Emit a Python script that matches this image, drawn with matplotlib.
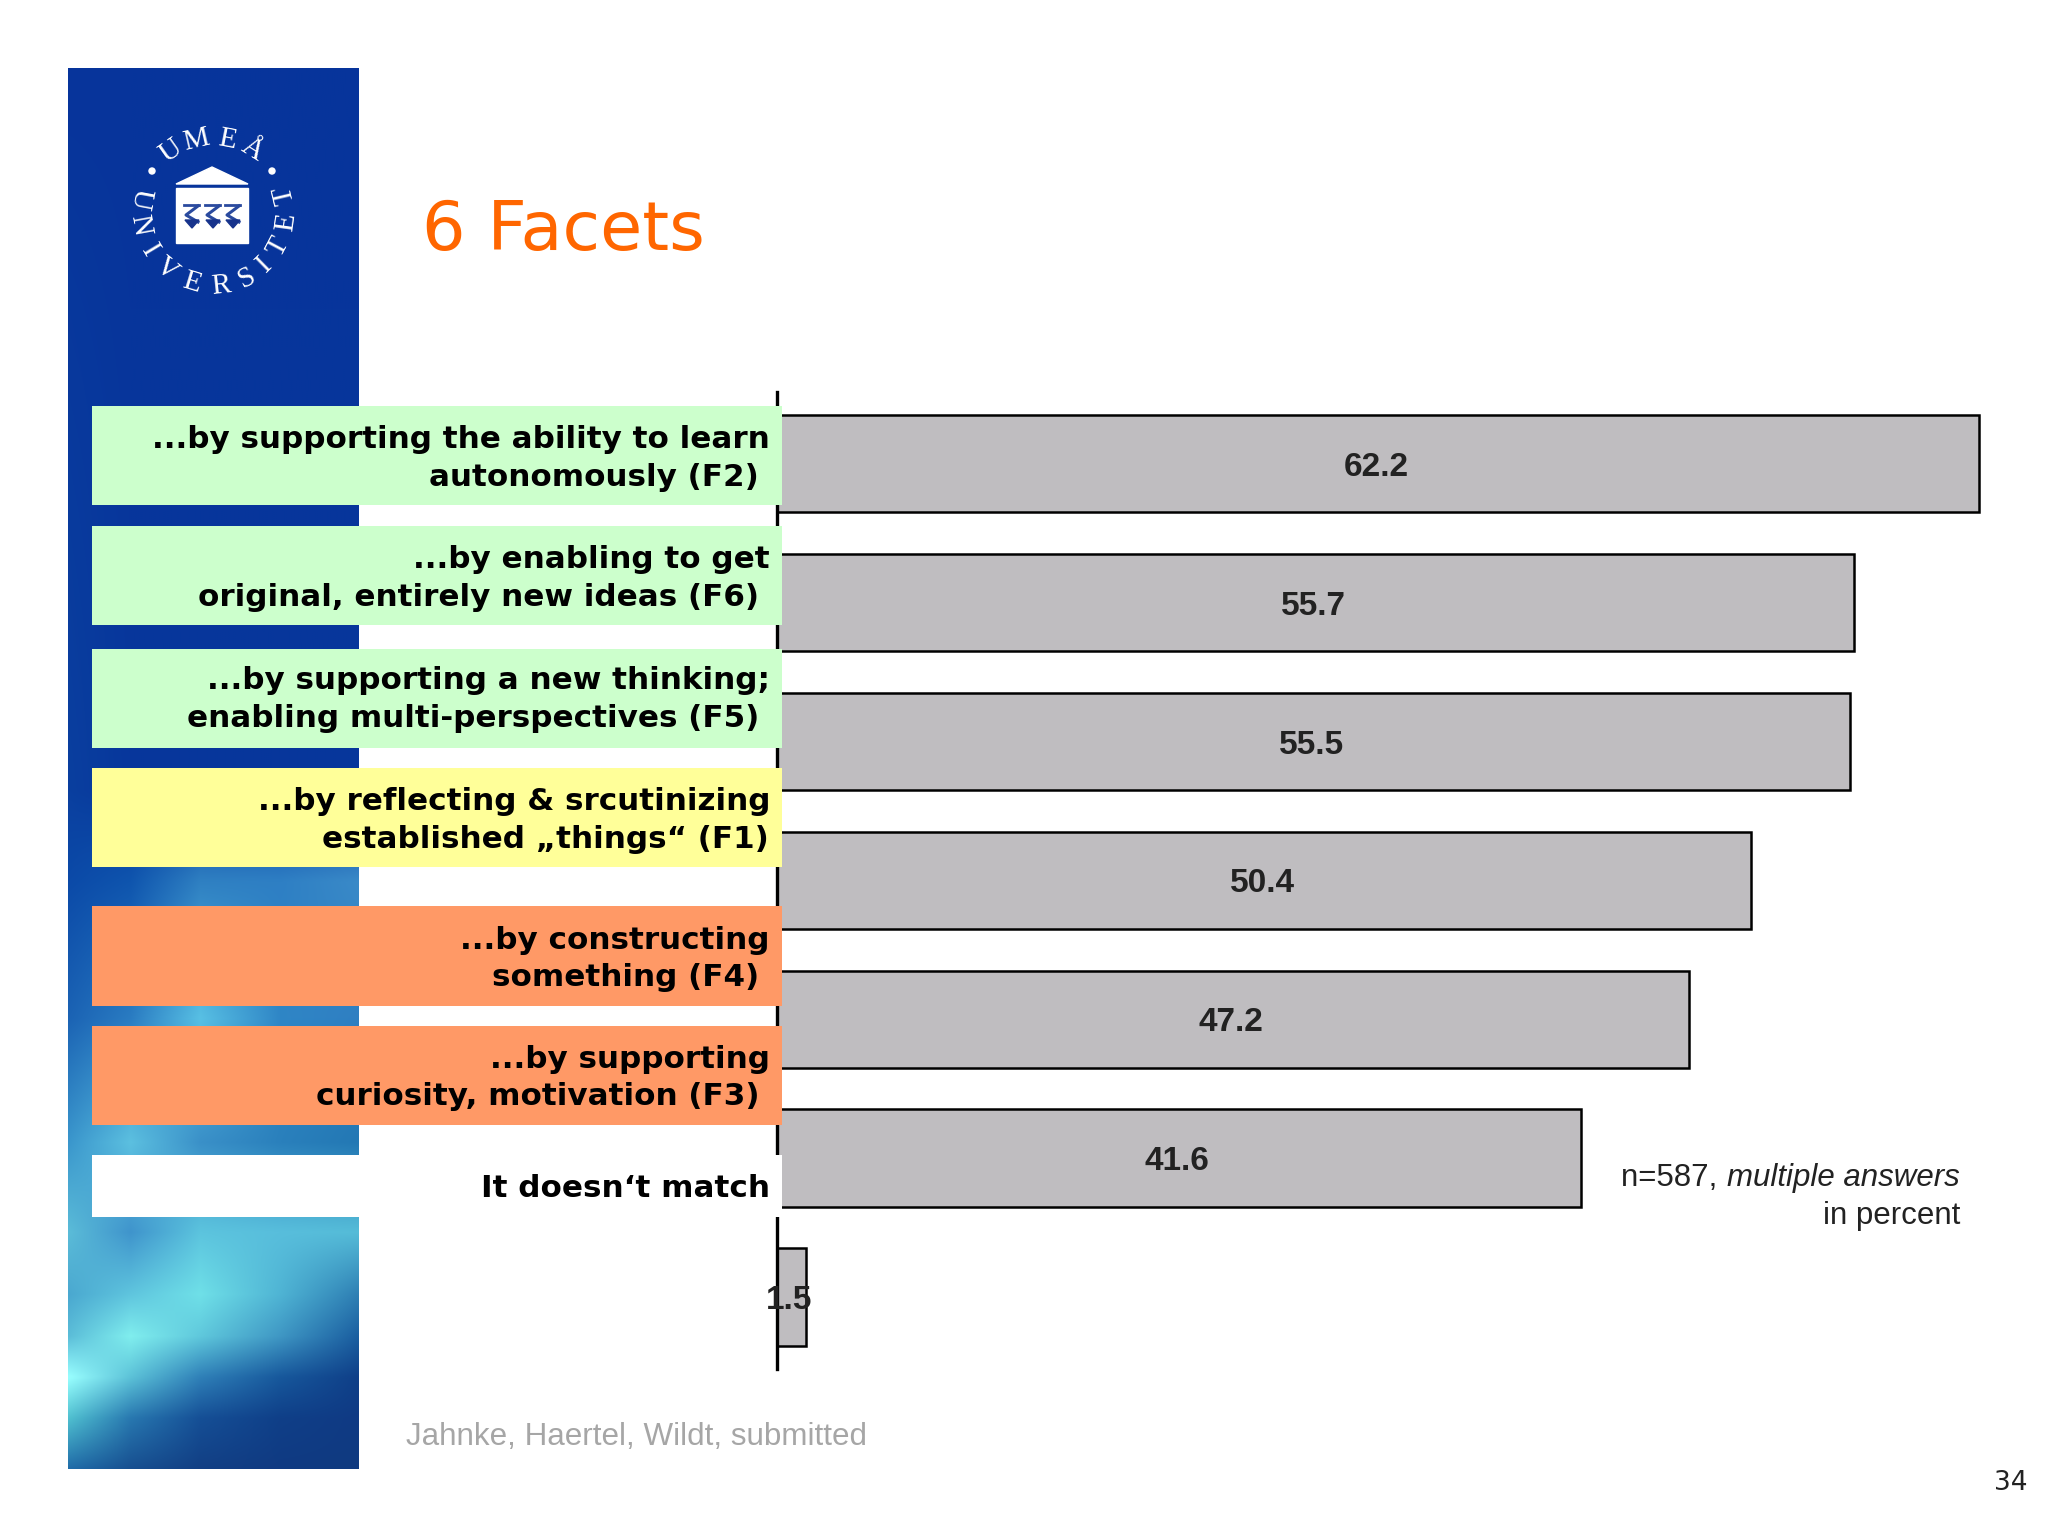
import numpy as np
import matplotlib
matplotlib.use("Agg")
import matplotlib.pyplot as plt
from matplotlib.patches import Rectangle, Polygon, Circle

# ---- data ----
title = "6 Facets"
values = [62.2, 55.7, 55.5, 50.4, 47.2, 41.6, 1.5]
value_labels = ["62.2", "55.7", "55.5", "50.4", "47.2", "41.6", "1.5"]
label_line1 = ["...by supporting the ability to learn", "...by enabling to get",
               "...by supporting a new thinking;", "...by reflecting & srcutinizing",
               "...by constructing", "...by supporting", "It doesn‘t match"]
label_line2 = ["autonomously (F2)", "original, entirely new ideas (F6)",
               "enabling multi-perspectives (F5)", "established „things“ (F1)",
               "something (F4)", "curiosity, motivation (F3)", ""]
box_colors = ["#CCFFCC", "#CCFFCC", "#CCFFCC", "#FFFF99", "#FF9966", "#FF9966", "#FFFFFF"]
note_plain = "n=587, "
note_italic = "multiple answers"
note_line2 = "in percent"
source = "Jahnke, Haertel, Wildt, submitted"
page = "34"

W, H = 2048, 1536
fig = plt.figure(figsize=(W / 100, H / 100), dpi=100, facecolor="white")

def pixel_axes(z):
    a = fig.add_axes([0, 0, 1, 1], zorder=z)
    a.set_xlim(0, W)
    a.set_ylim(H, 0)
    a.axis("off")
    a.patch.set_alpha(0)
    return a

# ---- side panel ----
bg = pixel_axes(0)
def h(c):
    c = c.lstrip("#")
    return [int(c[i:i + 2], 16) / 255 for i in (0, 2, 4)]
rows = [68, 790, 881, 1018, 1142, 1232, 1294, 1336, 1377, 1418, 1469]
cols = [68, 130, 200, 280, 359]
grid = [
    ["#07349b", "#07349b", "#07349b", "#07349b", "#07349b"],
    ["#0a3f9f", "#07379c", "#07379c", "#07379c", "#07379c"],
    ["#0b4aa8", "#0f55ae", "#2f80c2", "#2e7fc4", "#3a8ac8"],
    ["#1b63b4", "#2a7cc2", "#58c0e4", "#2f86c6", "#2f7fc2"],
    ["#3a96cc", "#5cc0e0", "#3a90c8", "#2a80bc", "#2378b4"],
    ["#5bbcd8", "#3f94cc", "#5cc4de", "#58bedc", "#55bcd8"],
    ["#4aa8d0", "#5fc5de", "#6fe0e8", "#4fb4d4", "#2e7fb4"],
    ["#5bbdd8", "#80eeee", "#5fc8dc", "#3f97c4", "#1a5ea0"],
    ["#99ffff", "#5cc2d8", "#2f80b8", "#17589c", "#0f3f88"],
    ["#50c0d0", "#2878b0", "#154f96", "#0f3f88", "#0f3a84"],
    ["#1f6ba8", "#174f90", "#123f84", "#103a82", "#103a80"],
]
G = np.array([[h(c) for c in r] for r in grid])
yy = np.arange(68, 1469, 2)
xx = np.arange(68, 359, 2)
img = np.zeros((len(yy), len(xx), 3))
for ch in range(3):
    tmp = np.array([np.interp(xx, cols, G[i, :, ch]) for i in range(len(rows))])
    for j in range(len(xx)):
        img[:, j, ch] = np.interp(yy, rows, tmp[:, j])
bg.imshow(img, extent=(68, 359, 1469, 68), aspect="auto", interpolation="bilinear", zorder=1)
bg.set_xlim(0, W)
bg.set_ylim(H, 0)

# logo
lc = (213, 212)
top_letters = [("U", -35), ("M", -13), ("E", 11), ("Å", 32)]
bot_letters = [("U", 280.6), ("N", 259.6), ("I", 239), ("V", 219), ("E", 197), ("R", 174),
               ("S", 153), ("I", 135.6), ("T", 118), ("E", 98), ("T", 76.7)]
R = 74
for s, a in top_letters:
    t = np.radians(a)
    bg.text(lc[0] + R * np.sin(t), lc[1] - R * np.cos(t), s, rotation=-a, rotation_mode="anchor",
            ha="center", va="center", family="Liberation Serif", fontsize=21, color="white", zorder=3)
for s, a in bot_letters:
    t = np.radians(a)
    bg.text(lc[0] + R * np.sin(t), lc[1] - R * np.cos(t), s, rotation=180 - a, rotation_mode="anchor",
            ha="center", va="center", family="Liberation Serif", fontsize=21, color="white", zorder=3)
for cx in (152, 272):
    bg.add_patch(Circle((cx, 171), 3, color="white", zorder=3))
bg.add_patch(Polygon([(212, 167), (176, 184), (248, 184)], color="white", zorder=3))
bg.add_patch(Rectangle((176, 188), 72, 55, color="white", zorder=3))
for cx in (192, 213, 233):
    bg.plot([cx - 8, cx + 7], [205, 205], color="#2a4a9e", lw=2, zorder=4)
    bg.plot([cx + 6, cx - 6, cx + 6], [206, 215, 222], color="#2a4a9e", lw=2.2, zorder=4)
    bg.add_patch(Polygon([(cx - 7, 220), (cx + 7, 220), (cx, 228)], color="#17338c", zorder=4))

# ---- chart ----
x0, scale = 777, 19.33
xmax = (2040 - x0) / scale
step = (1297 - 463.6) / 6
ax = fig.add_axes([x0 / W, 1 - 1369 / H, (2040 - x0) / W, (1369 - 392) / H], zorder=1)
ax.patch.set_alpha(0)
ypos = np.arange(len(values))
bars = ax.barh(ypos, values, height=0.70, color="#BFBDC0", edgecolor="black", linewidth=1.8)
texts = ax.bar_label(bars, labels=value_labels, label_type="center", fontsize=24, fontweight="bold",
                     family="Liberation Sans", color="#222222")
for t in texts:
    t.xyann = (-1.5, -2.6)
ax.set_xlim(0, xmax)
ax.set_ylim(6 + (1369 - 1297) / step, -(463.6 - 392) / step)
for sp in ("top", "right", "bottom"):
    ax.spines[sp].set_visible(False)
ax.spines["left"].set_linewidth(2.4)
ax.set_xticks([])
ax.set_yticks([])

# ---- labels and text ----
top = pixel_axes(2)
boxes = [(406, 505), (526, 625), (649, 748), (768, 867), (906, 1006), (1026, 1125), (1155, 1217)]
base1 = [448, 568, 689, 810, 949, 1068, 1197]
base2 = [486, 606, 727, 848, 986, 1105, 0]
right2 = [759, 759, 759, 769, 759, 759, 769]
LFS = 22.3
for (y1, y2), col, l1, l2, b1, b2, r2 in zip(boxes, box_colors, label_line1, label_line2, base1, base2, right2):
    top.add_patch(Rectangle((92, y1), 690, y2 - y1, facecolor=col, edgecolor="none", zorder=1))
    top.text(770, b1, l1, ha="right", va="baseline", fontsize=LFS, fontweight="bold", color="black", zorder=2)
    if l2:
        top.text(r2, b2, l2, ha="right", va="baseline", fontsize=LFS, fontweight="bold", color="black", zorder=2)

top.text(422, 250, title, ha="left", va="baseline", fontsize=49.3, color="#FF6600")
top.text(406, 1445, source, ha="left", va="baseline", fontsize=22.6, family="Liberation Sans", color="#A6A6A6")
it = top.text(1960, 1186, note_italic, ha="right", va="baseline", fontsize=22.5,
              family="Liberation Sans", style="italic", color="#222222")
fig.canvas.draw()
ext = it.get_window_extent()
top.text(ext.x0 - 1, 1186, note_plain.rstrip() + " ", ha="right", va="baseline", fontsize=22.5,
         family="Liberation Sans", color="#222222")
top.text(1960, 1224, note_line2, ha="right", va="baseline", fontsize=22.5,
         family="Liberation Sans", color="#222222")
top.text(2027, 1490, page, ha="right", va="baseline", fontsize=19, color="#222222")

fig.savefig("out.png", dpi=100, facecolor="white")
